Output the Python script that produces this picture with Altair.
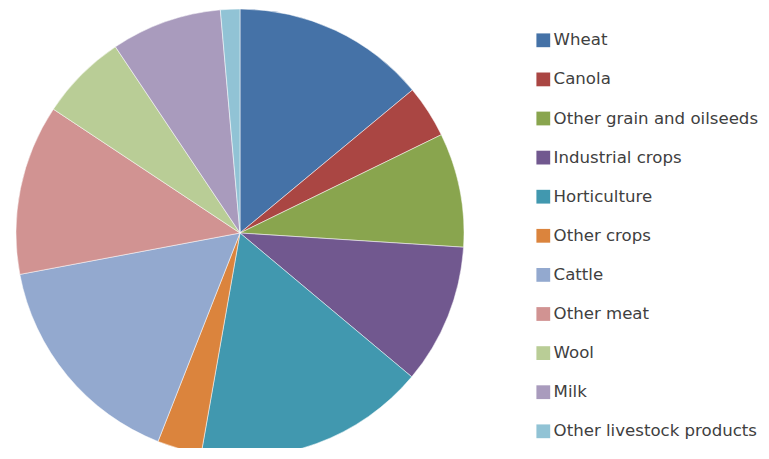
import altair as alt
import pandas as pd

categories = ["Wheat", "Canola", "Other grain and oilseeds", "Industrial crops",
              "Horticulture", "Other crops", "Cattle", "Other meat", "Wool",
              "Milk", "Other livestock products"]
values = [14.0, 3.8, 8.25, 10.1, 16.7, 3.2, 16.1, 12.3, 6.3, 8.0, 1.4]
colors = ["#4572A7", "#AA4643", "#89A54E", "#71588F", "#4198AF", "#DB843D",
          "#93A9CF", "#D19392", "#B9CD96", "#A99BBD", "#91C3D5"]

df = pd.DataFrame({"category": categories, "value": values,
                   "order": list(range(len(categories)))})

chart = alt.Chart(df).mark_arc(outerRadius=224, stroke="white", strokeWidth=0.5).encode(
    x=alt.value(227),
    y=alt.value(220),
    theta=alt.Theta("value:Q", stack=True),
    color=alt.Color("category:N",
                    scale=alt.Scale(domain=categories, range=colors),
                    legend=alt.Legend(title=None, orient="none", legendX=522, legendY=19,
                                      symbolType="square", symbolSize=190,
                                      symbolStrokeWidth=0,
                                      labelFont="DejaVu Sans", labelFontSize=16.6,
                                      labelColor="#404040", labelLimit=400,
                                      rowPadding=22.1, labelOffset=2)),
    order=alt.Order("order:Q"),
).properties(width=742, height=430, padding=5,
             autosize=alt.AutoSizeParams(type="none")).configure_view(stroke=None)

chart.save("out.html", embed_options={"renderer": "svg", "actions": False})
